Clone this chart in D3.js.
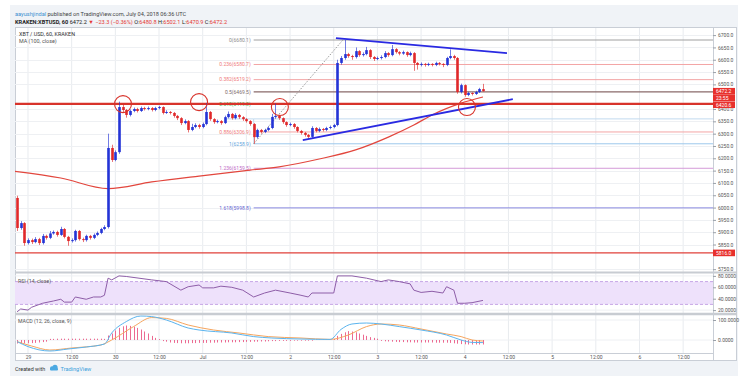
<!DOCTYPE html>
<html lang="en">
<head>
<meta charset="utf-8">
<title>XBTUSD 60</title>
<script src="https://d3js.org/d3.v7.min.js"></script>
<style>
  body { margin: 0; background: #fff; }
  text { font-family: Roboto, "Liberation Sans", sans-serif; }
</style>
</head>
<body>
<script>
var W = 754, H = 385;

// hourly candles, first one is Jun 28 21:00 UTC
var startHour = Date.UTC(2018, 5, 28, 21);

var opens = [6039,5917,5937,5856,5868,5860,5872,5856,5885,5877,
  5895,5901,5889,5913,5881,5864,5868,5905,5872,5868,
  5885,5877,5889,5897,5913,5921,6242,6193,6225,6408,
  6396,6376,6392,6400,6392,6404,6400,6404,6396,6404,
  6408,6384,6388,6384,6372,6363,6343,6351,6315,6327,
  6335,6327,6339,6388,6359,6347,6351,6343,6367,6380,
  6363,6376,6367,6359,6351,6339,6286,6315,6307,6315,
  6323,6368,6372,6363,6347,6335,6339,6327,6311,6303,
  6295,6287,6323,6311,6319,6315,6323,6327,6335,6587,
  6607,6623,6615,6611,6635,6619,6623,6639,6611,6603,
  6607,6611,6627,6619,6643,6631,6625,6631,6619,6627,
  6587,6579,6583,6579,6583,6579,6587,6583,6579,6607,
  6615,6607,6469,6497,6457,6465,6461,6469,6480.8];

var highs = [6048,5945,5941,5875,5874,5880,5877,5893,5890,5905,
  5907,5906,5922,5917,5885,5875,5910,5909,5878,5890,
  5889,5895,5903,5918,5928,6300,6255,6232,6430,6418,
  6400,6398,6406,6405,6410,6409,6410,6408,6409,6413,
  6411,6395,6392,6388,6376,6367,6358,6355,6340,6342,
  6340,6345,6425,6392,6363,6357,6355,6373,6390,6384,
  6383,6380,6371,6363,6355,6343,6320,6319,6320,6330,
  6380,6422,6377,6366,6350,6345,6343,6330,6315,6307,
  6299,6330,6327,6325,6323,6328,6333,6340,6600,6615,
  6680.1,6628,6620,6650,6639,6630,6652,6643,6615,6613,
  6618,6635,6631,6660,6647,6635,6637,6634,6633,6631,
  6591,6589,6587,6588,6586,6592,6591,6586,6612,6642,
  6620,6611,6503,6500,6470,6468,6474,6486,6502.1];

var lows = [5905,5910,5845,5850,5852,5855,5848,5850,5870,5872,
  5890,5882,5885,5875,5845,5858,5862,5866,5860,5862,
  5870,5872,5884,5892,5908,5915,6185,6188,6218,6388,
  6365,6370,6387,6386,6388,6394,6395,6390,6391,6399,
  6378,6380,6378,6365,6355,6335,6338,6305,6310,6322,
  6320,6322,6334,6352,6340,6342,6336,6339,6362,6357,
  6358,6360,6352,6345,6332,6258.9,6280,6300,6302,6310,
  6318,6362,6356,6340,6328,6330,6320,6305,6296,6288,
  6278,6282,6305,6306,6309,6310,6318,6322,6330,6580,
  6600,6608,6600,6605,6612,6613,6618,6603,6595,6598,
  6601,6606,6612,6614,6625,6618,6620,6612,6614,6555,
  6560,6573,6572,6574,6573,6574,6577,6570,6574,6602,
  6600,6462,6463,6450,6452,6455,6457,6465,6470.9];

var closes = [5917,5937,5856,5868,5860,5872,5856,5885,5877,5895,
  5901,5889,5913,5881,5864,5868,5905,5872,5868,5885,
  5877,5889,5897,5913,5921,6242,6193,6225,6408,6396,
  6376,6392,6400,6392,6404,6400,6404,6396,6404,6408,
  6384,6388,6384,6372,6363,6343,6351,6315,6327,6335,
  6327,6339,6388,6359,6347,6351,6343,6367,6380,6363,
  6376,6367,6359,6351,6339,6286,6315,6307,6315,6323,
  6368,6372,6363,6347,6335,6339,6327,6311,6303,6295,
  6287,6323,6311,6319,6315,6323,6327,6335,6587,6607,
  6623,6615,6611,6635,6619,6623,6639,6611,6603,6607,
  6611,6627,6619,6643,6631,6625,6631,6619,6627,6587,
  6579,6583,6579,6583,6579,6587,6583,6579,6607,6615,
  6607,6469,6497,6457,6465,6461,6469,6481,6472.2];

// MA(100) read at a few candles
var maIdx = [-1, 12, 25, 37, 50, 64, 72, 83, 93, 102, 109, 114, 122, 128];
var maVal = [6148, 6120, 6077, 6104, 6128, 6152, 6165, 6197, 6234, 6286, 6335, 6376, 6424, 6449];

// RSI(14)
var rsiIdx = [0,1,3,4,7,10,12,13,15,16,19,21,23,24,25,26,28,30,37,41,45,47,50,51,54,56,59,62,65,68,71,75,78,80,81,87,88,92,96,100,102,105,108,109,111,114,117,118,120,121,123,125,128];
var rsiVal = [17,22,20,25,32,36,39,34,34,43,39,43,43,46,76,73,80,79,73,70,55,61,64,59,59,62,60,55,43,50,55,50,46,43,50,50,80,80,76,70,73,70,66,55,51,53,50,61,55,32,32,33,37];

// MACD(12, 26, 9)
var macdIdx = [0,3,9,14,19,24,26,30,34,37,41,47,50,59,65,70,78,86,89,92,96,100,105,111,118,122,125,128];
var macdVal = [-8,-33,-55,-45,-35,-20,35,92,120,117,100,60,50,35,17,10,5,3,53,80,85,80,67,50,25,0,-12,-13];
var sigIdx = [0,4,9,15,23,26,32,37,41,47,54,61,69,78,86,91,96,100,105,111,118,122,125,128];
var sigVal = [-8,-30,-50,-40,-25,0,67,112,108,75,50,35,17,10,3,25,67,80,75,55,30,17,0,-5];
var hist = [-15,-16,-15,-14,-13,-12,-10,-8,-6,
  3,3,4,4,4,4,4,4,4,4,4,4,4,4,4,3,
  20,30,45,58,66,70,68,64,58,50,40,30,18,8,
  2,-3,-6,
  -10,-12,-13,-14,-14,-14,-13,-13,-12,-12,-12,-11,-11,-10,-10,-10,-9,-9,-9,-8,-8,-7,-7,-6,-6,-5,-5,-4,
  -3,-3,-2,-2,-2,-2,-1,-1,-1,-1,-1,-1,0,0,0,0,0,
  3,18,28,36,42,40,36,30,24,18,12,8,4,
  -2,-4,-5,-6,-7,-8,-8,-9,-9,-10,-10,-10,-10,-10,-10,-11,-11,-11,-11,-12,-14,-16,-18,-19,-20,-20,-20,-20,-20];

// fibonacci retracement
var fibLevels = ["0", "0.236", "0.382", "0.5", "0.618", "0.886", "1", "1.236", "1.618"];
var fibPrices = [6680.1, 6580.7, 6519.2, 6469.5, 6419.8, 6306.9, 6258.9, 6159.5, 5998.8];
var fibStart = 65, fibTop = 89.5;

// drawn lines
var upperTrend = [[87.6, 6688], [134.6, 6627]];
var lowerTrend = [[78.5, 6274], [136.2, 6440]];
var supportPrice = 6420.6;
var bottomPrice = 5816.0;
var circleIdx = [29.1, 50, 72.2, 123.6];
var circlePrice = [6420, 6428, 6408, 6408];

var priceTicks = [5750,5850,5900,5950,6000,6050,6100,6150,6200,6250,6300,6350,6400,6500,6550,6600,6650,6700];
var rsiTicks = [80, 60, 40, 20];

var tAt = i => new Date(startHour + i * 3600e3);
var day0 = Date.UTC(2018, 5, 29);

var x = d3.scaleTime()
  .domain([new Date(day0 - 3.57 * 3600e3), new Date(day0 + 188.2 * 3600e3)])
  .range([15, 713]);
var y = d3.scaleLinear().domain([5738.5, 6732.9]).range([272, 27]);
var yRsi = d3.scaleLinear().domain([14.9, 85.1]).range([313, 273]);
var yMacd = d3.scaleLinear().domain([-65, 125]).range([353, 315]);

var svg = d3.select("body").append("svg").attr("width", W).attr("height", H);

var defs = svg.append("defs");
defs.append("clipPath").attr("id", "cMain").append("rect").attr("x", 15).attr("y", 27).attr("width", 698).attr("height", 245);
defs.append("clipPath").attr("id", "cRsi").append("rect").attr("x", 15).attr("y", 273).attr("width", 698).attr("height", 40);
defs.append("clipPath").attr("id", "cMacd").append("rect").attr("x", 15).attr("y", 315).attr("width", 698).attr("height", 38);

// background + frame
svg.append("rect").attr("x", 10).attr("y", 5).attr("width", 728).attr("height", 371).attr("fill", "#f0f3f7");
svg.append("rect").attr("x", 15.5).attr("y", 27.5).attr("width", 721).attr("height", 333)
  .attr("fill", "#fff").attr("stroke", "#c9ced6");

// header
var h1 = svg.append("text").attr("x", 15).attr("y", 16).attr("font-size", 5.6).attr("fill", "#444");
h1.append("tspan").attr("fill", "#3b8fd0").text("aayushjindal");
h1.append("tspan").text(" published on TradingView.com, July 04, 2018 06:36 UTC");
var h2 = svg.append("text").attr("x", 15).attr("y", 24).attr("font-size", 5.6).attr("fill", "#222");
h2.append("tspan").attr("font-weight", "bold").text("KRAKEN:XBTUSD, 60");
h2.append("tspan").text(" 6472.2 ");
h2.append("tspan").attr("fill", "#e53935").text("▼");
h2.append("tspan").attr("fill", "#e53935").text(" −23.3 (−0.36%) ");
[["O:", "6480.8"], [" H:", "6502.1"], [" L:", "6470.9"], [" C:", "6472.2"]].forEach(p => {
  h2.append("tspan").text(p[0]);
  h2.append("tspan").attr("fill", "#e53935").text(p[1]);
});

// grid
var xTicks = d3.range(0, 16).map(k => new Date(day0 + k * 12 * 3600e3));
svg.append("g").selectAll("line").data(xTicks).enter().append("line")
  .attr("x1", d => x(d)).attr("x2", d => x(d)).attr("y1", 28).attr("y2", 353)
  .attr("stroke", "#e8ebef").attr("stroke-width", 1);
svg.append("g").selectAll("line").data(priceTicks).enter().append("line")
  .attr("x1", 15).attr("x2", 713).attr("y1", d => Math.round(y(d)) + 0.5).attr("y2", d => Math.round(y(d)) + 0.5)
  .attr("stroke", "#eef0f3");
svg.append("g").selectAll("line").data(rsiTicks).enter().append("line")
  .attr("x1", 15).attr("x2", 713).attr("y1", d => yRsi(d)).attr("y2", d => yRsi(d))
  .attr("stroke", "#eef0f3");
svg.append("g").selectAll("line").data([100, 0]).enter().append("line")
  .attr("x1", 15).attr("x2", 713).attr("y1", d => yMacd(d)).attr("y2", d => yMacd(d))
  .attr("stroke", "#eef0f3");

// main panel
var main = svg.append("g").attr("clip-path", "url(#cMain)");

// fib levels
var fibLineCol = ["#a0a0a0", "#f3a5a5", "#f3a5a5", "#8a6a6a", "#7cc47f", "#f3a5a5", "#9cc8ec", "#d59ad9", "#8a8ae0"];
var fibTextCol = ["#8c8c8c", "#ef7b7b", "#ef7b7b", "#7d6a6a", "#4caf50", "#ef7b7b", "#5fa5dc", "#c06ac6", "#6565d0"];
var fx = x(tAt(fibStart));
main.append("line").attr("x1", fx).attr("x2", 713).attr("y1", y(6360)).attr("y2", y(6360))
  .attr("stroke", "#c3dbef");
main.append("line").attr("x1", x(tAt(57))).attr("x2", fx).attr("y1", y(6360)).attr("y2", y(6360))
  .attr("stroke", "#c3dbef");
main.append("line").attr("x1", fx).attr("x2", fx).attr("y1", y(6360)).attr("y2", y(6258.9))
  .attr("stroke", "#c3dbef");
fibPrices.forEach((p, k) => {
  main.append("line").attr("x1", fx).attr("x2", 713).attr("y1", y(p)).attr("y2", y(p))
    .attr("stroke", fibLineCol[k]).attr("stroke-width", k == 3 ? 1.2 : 1);
  main.append("text").attr("x", fx - 3).attr("y", y(p) + 1.8).attr("text-anchor", "end")
    .attr("font-size", 5).attr("fill", fibTextCol[k]).text(fibLevels[k] + "(" + p.toFixed(1) + ")");
});
main.append("line")
  .attr("x1", fx).attr("y1", y(6258.9)).attr("x2", x(tAt(fibTop))).attr("y2", y(6680.1))
  .attr("stroke", "#9a9a9a").attr("stroke-dasharray", "1.5,1.5");

// MA(100)
main.append("path")
  .datum(maIdx.map((d, k) => [d, maVal[k]]))
  .attr("d", d3.line().x(d => x(tAt(d[0]))).y(d => y(d[1])).curve(d3.curveMonotoneX))
  .attr("fill", "none").attr("stroke", "#e2463d").attr("stroke-width", 1.2);

// horizontal red lines
main.append("line").attr("x1", 15).attr("x2", 713).attr("y1", y(supportPrice)).attr("y2", y(supportPrice))
  .attr("stroke", "#d8332b").attr("stroke-width", 2.2);
main.append("line").attr("x1", 15).attr("x2", 713).attr("y1", y(bottomPrice)).attr("y2", y(bottomPrice))
  .attr("stroke", "#e0403a").attr("stroke-width", 1.4);

// candles
var cd = closes.map((c, i) => ({i: i, o: opens[i], h: highs[i], l: lows[i], c: c}));
var col = d => d.c >= d.o ? "#2434d6" : "#e0282a";
main.selectAll("line.wick").data(cd).enter().append("line").attr("class", "wick")
  .attr("x1", d => Math.round(x(tAt(d.i))) + 0.5).attr("x2", d => Math.round(x(tAt(d.i))) + 0.5)
  .attr("y1", d => y(d.h)).attr("y2", d => y(d.l))
  .attr("stroke", col).attr("stroke-width", 0.8).attr("opacity", 0.8);
main.selectAll("rect.body").data(cd).enter().append("rect").attr("class", "body")
  .attr("x", d => Math.round(x(tAt(d.i))) - 0.8)
  .attr("width", 2.6)
  .attr("y", d => y(Math.max(d.o, d.c)))
  .attr("height", d => Math.max(1, Math.abs(y(d.o) - y(d.c))))
  .attr("fill", col);

// trend lines
[upperTrend, lowerTrend].forEach(t => {
  main.append("line")
    .attr("x1", x(tAt(t[0][0]))).attr("y1", y(t[0][1]))
    .attr("x2", x(tAt(t[1][0]))).attr("y2", y(t[1][1]))
    .attr("stroke", "#2a2ae2").attr("stroke-width", 1.8);
});

// circles
main.selectAll("circle.mark").data(circleIdx).enter().append("circle").attr("class", "mark")
  .attr("cx", d => x(tAt(d))).attr("cy", (d, k) => y(circlePrice[k])).attr("r", 8.5)
  .attr("fill", "none").attr("stroke", "#d8332b").attr("stroke-width", 1.1);

// legend text
svg.append("text").attr("x", 19).attr("y", 36).attr("font-size", 5.4).attr("fill", "#333").text("XBT / USD, 60, KRAKEN");
svg.append("text").attr("x", 19).attr("y", 43).attr("font-size", 5.4).attr("fill", "#555").text("MA (100, close)");

// RSI panel
var rsi = svg.append("g").attr("clip-path", "url(#cRsi)");
rsi.append("rect").attr("x", 15).attr("width", 698).attr("y", yRsi(70)).attr("height", yRsi(30) - yRsi(70))
  .attr("fill", "#eee1fb");
[70, 30].forEach(v => {
  rsi.append("line").attr("x1", 15).attr("x2", 713).attr("y1", yRsi(v)).attr("y2", yRsi(v))
    .attr("stroke", "#c6a6e6").attr("stroke-dasharray", "3,2");
});
rsi.append("path")
  .datum(rsiIdx.map((d, k) => [d, rsiVal[k]]))
  .attr("d", d3.line().x(d => x(tAt(d[0]))).y(d => yRsi(d[1])))
  .attr("fill", "none").attr("stroke", "#8e5ea8").attr("stroke-width", 1);
svg.append("text").attr("x", 18).attr("y", 283).attr("font-size", 5.2).attr("fill", "#555").text("RSI (14, close)");

// MACD panel
var macd = svg.append("g").attr("clip-path", "url(#cMacd)");
macd.selectAll("line.hist").data(hist).enter().append("line").attr("class", "hist")
  .attr("x1", (d, i) => Math.round(x(tAt(i))) + 0.5).attr("x2", (d, i) => Math.round(x(tAt(i))) + 0.5)
  .attr("y1", yMacd(0)).attr("y2", d => yMacd(d) + (d >= 0 ? -0.5 : 0.5))
  .attr("stroke", "#ea5a86").attr("stroke-width", 0.9);
macd.append("path")
  .datum(sigIdx.map((d, k) => [d, sigVal[k]]))
  .attr("d", d3.line().x(d => x(tAt(d[0]))).y(d => yMacd(d[1])).curve(d3.curveMonotoneX))
  .attr("fill", "none").attr("stroke", "#f6a55e").attr("stroke-width", 1);
macd.append("path")
  .datum(macdIdx.map((d, k) => [d, macdVal[k]]))
  .attr("d", d3.line().x(d => x(tAt(d[0]))).y(d => yMacd(d[1])).curve(d3.curveMonotoneX))
  .attr("fill", "none").attr("stroke", "#5bb4ee").attr("stroke-width", 1);
svg.append("text").attr("x", 18).attr("y", 323).attr("font-size", 5.2).attr("fill", "#555").text("MACD (12, 26, close, 9)");

// separators
svg.append("line").attr("x1", 15).attr("x2", 737).attr("y1", 272.5).attr("y2", 272.5).attr("stroke", "#c8ccd2").attr("stroke-width", 1.8);
svg.append("line").attr("x1", 15).attr("x2", 737).attr("y1", 314).attr("y2", 314).attr("stroke", "#c8ccd2").attr("stroke-width", 2.4);
svg.append("line").attr("x1", 15).attr("x2", 713).attr("y1", 353.5).attr("y2", 353.5).attr("stroke", "#c9ced6");
svg.append("line").attr("x1", 713.5).attr("x2", 713.5).attr("y1", 27).attr("y2", 361).attr("stroke", "#c9ced6");

// price axis
var pa = svg.append("g").attr("transform", "translate(713,0)")
  .call(d3.axisRight(y).tickValues(priceTicks).tickSize(3).tickFormat(d3.format(".1f")));
var ra = svg.append("g").attr("transform", "translate(713,0)")
  .call(d3.axisRight(yRsi).tickValues(rsiTicks).tickSize(3).tickFormat(d3.format(".4f")));
var ma = svg.append("g").attr("transform", "translate(713,0)")
  .call(d3.axisRight(yMacd).tickValues([100, 0]).tickSize(3).tickFormat(d3.format(".4f")));
[pa, ra, ma].forEach(g => {
  g.select(".domain").remove();
  g.selectAll("line").attr("stroke", "#9aa0a8");
  g.selectAll("text").attr("font-size", 5).attr("fill", "#555").attr("x", 5);
});

// red tags on the price axis
function tag(yc, label) {
  svg.append("rect").attr("x", 713).attr("y", yc - 3.3).attr("width", 22).attr("height", 6.6).attr("fill", "#e8302c");
  svg.append("text").attr("x", 716).attr("y", yc + 1.8).attr("font-size", 5).attr("fill", "#fff").text(label);
}
tag(y(6472.2), "6472.2");
tag(y(6472.2) + 6.6, "23:55");
tag(y(supportPrice) + 0.8, "6420.6");
tag(y(bottomPrice), "5816.0");

// time axis
var fmt = d => {
  var dd = new Date(d);
  if (dd.getUTCHours() == 12) return "12:00";
  if (dd.getUTCDate() == 1) return "Jul";
  return String(dd.getUTCDate());
};
var xa = svg.append("g").attr("transform", "translate(0,353)")
  .call(d3.axisBottom(x).tickValues(xTicks).tickSize(0).tickFormat(fmt));
xa.select(".domain").remove();
xa.selectAll("text").attr("font-size", 5).attr("fill", "#555").attr("dy", "0.85em").attr("y", 2);

// footer
svg.append("text").attr("x", 15).attr("y", 370.5).attr("font-size", 5.4).attr("fill", "#333").text("Created with");
var logo = svg.append("g").attr("fill", "#4aa8e2");
logo.append("circle").attr("cx", 52).attr("cy", 368.3).attr("r", 2);
logo.append("circle").attr("cx", 55).attr("cy", 367.3).attr("r", 2.6);
logo.append("rect").attr("x", 50).attr("y", 368).attr("width", 8).attr("height", 2.5).attr("rx", 1);
svg.append("text").attr("x", 60.5).attr("y", 370.5).attr("font-size", 5.6).attr("fill", "#3b9fdc").text("TradingView");
</script>
</body>
</html>
